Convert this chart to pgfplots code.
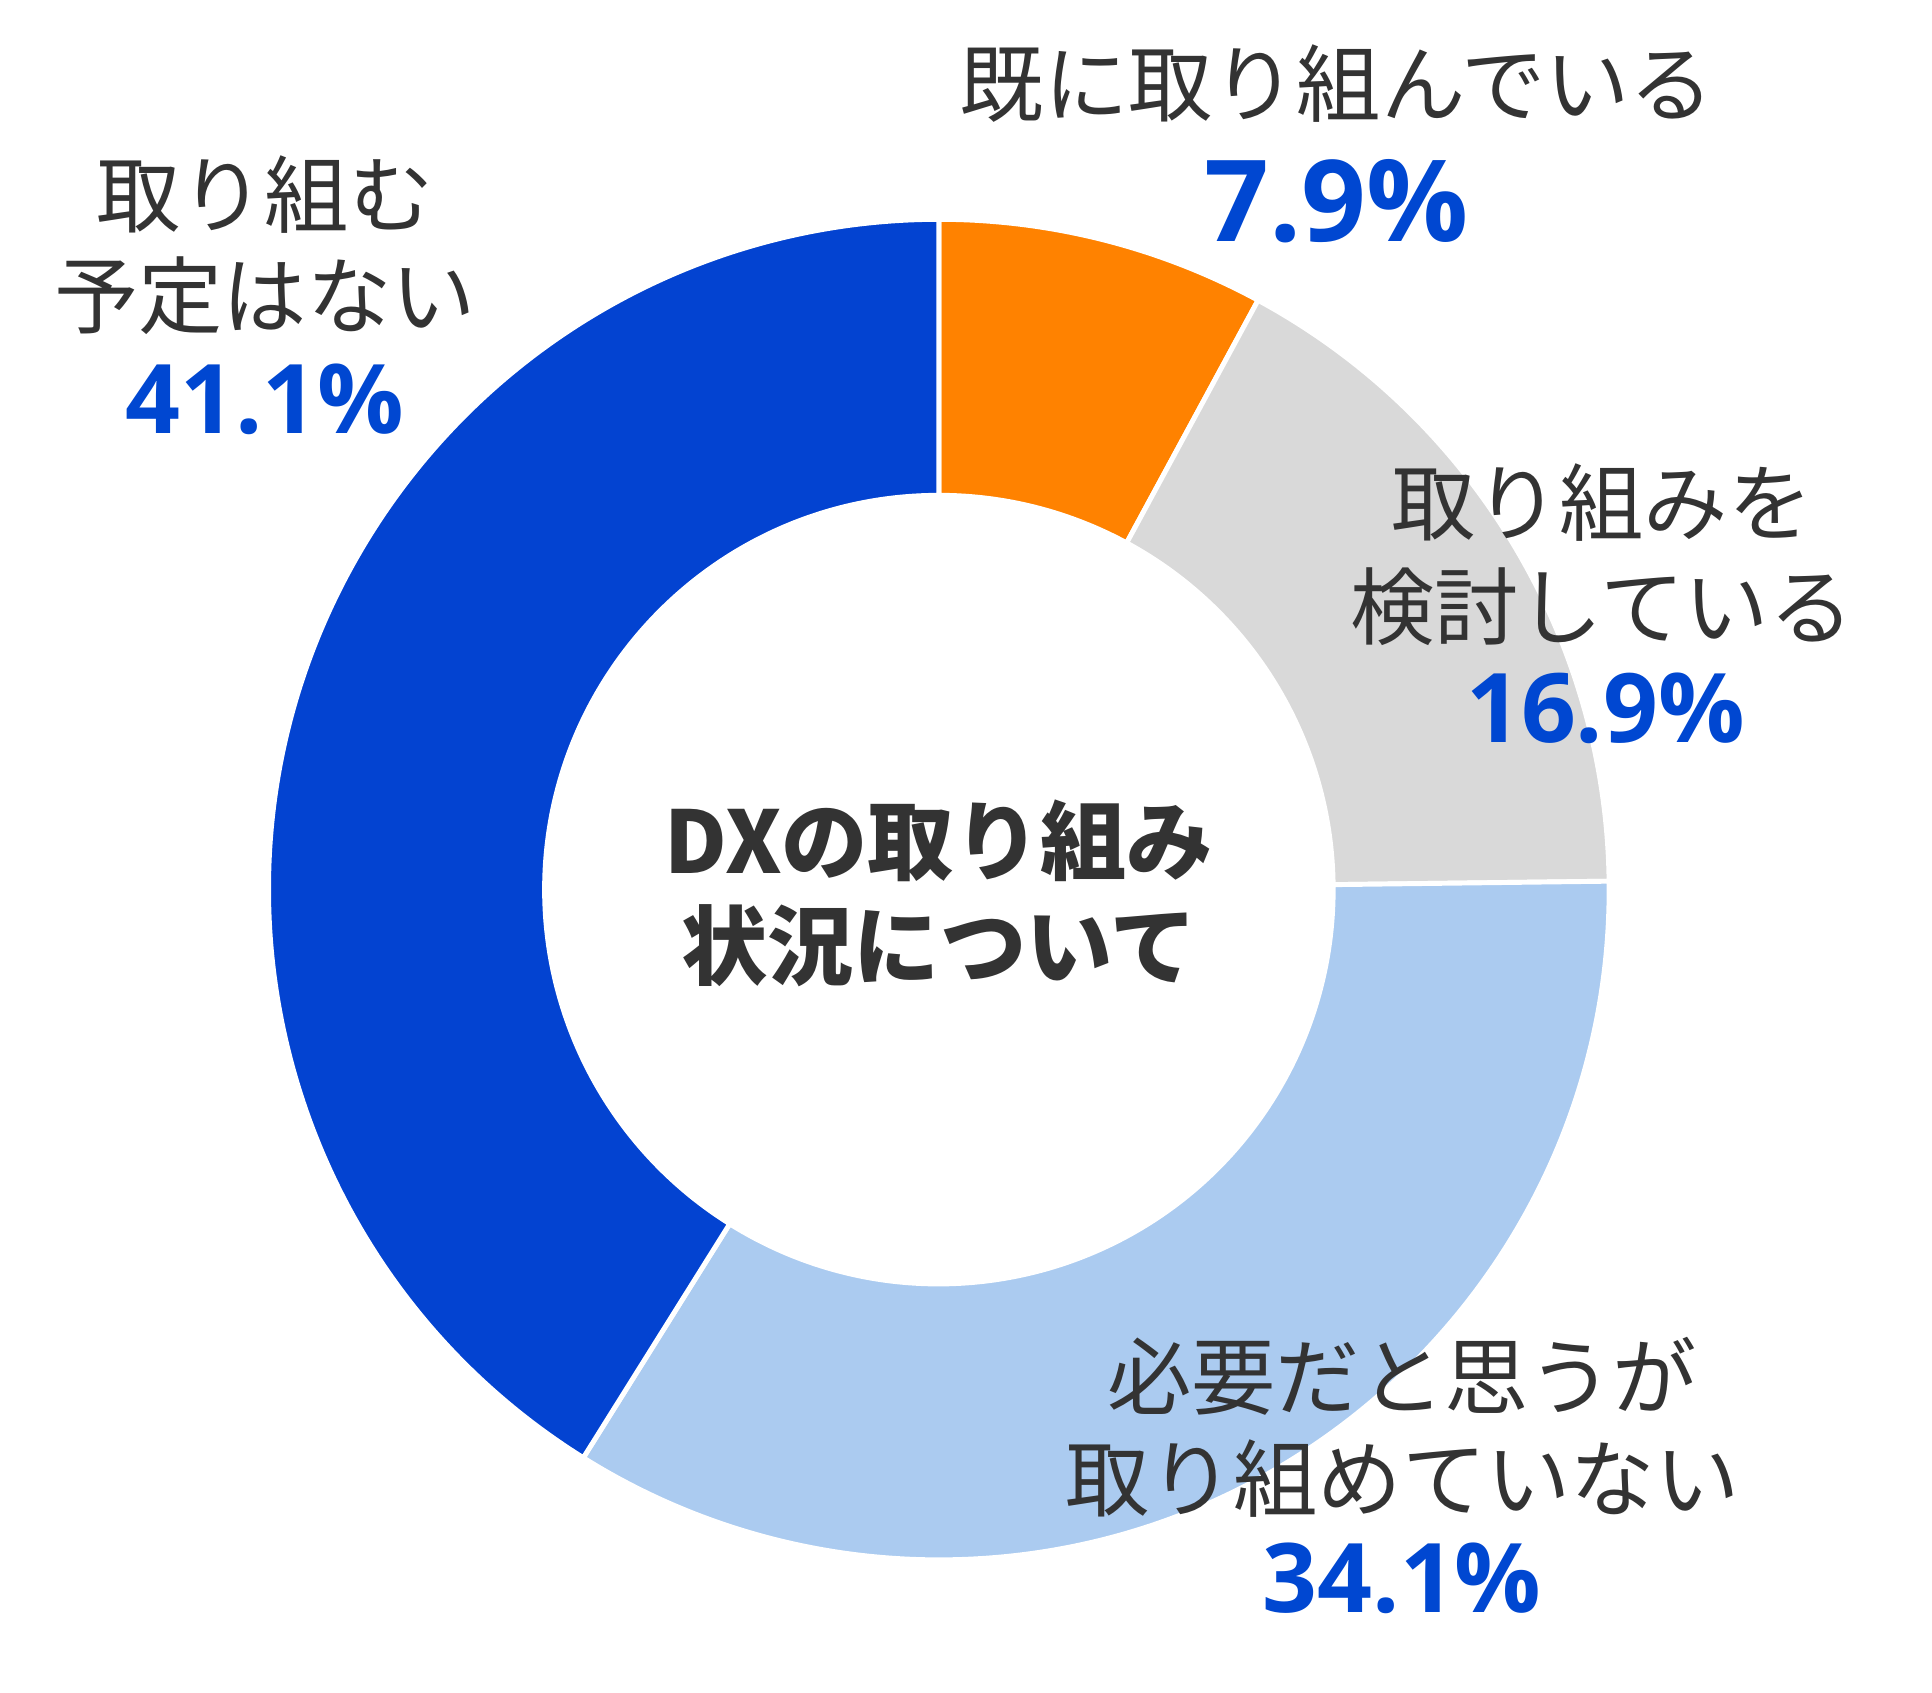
\documentclass[border=0pt]{standalone}
\usepackage{pgfplots}
\pgfplotsset{compat=1.18}
\usepackage{fontspec}
\setmainfont{Noto Sans CJK JP}
\newfontfamily\pctfont{Open Sans}
\definecolor{cOrange}{HTML}{FF8200}
\definecolor{cGray}{HTML}{D9D9D9}
\definecolor{cLight}{HTML}{ABCBF0}
\definecolor{cBlue}{HTML}{0343D1}
\definecolor{cText}{HTML}{333333}
\definecolor{cPct}{HTML}{0047D1}
% data (percent)
\def\vA{7.9}  % 既に取り組んでいる
\def\vB{16.9} % 取り組みを検討している
\def\vC{34.1} % 必要だと思うが取り組めていない
\def\vD{41.1} % 取り組む予定はない
\pgfmathsetmacro{\aO}{90}
\pgfmathsetmacro{\aA}{90-3.6*\vA}
\pgfmathsetmacro{\aB}{\aA-3.6*\vB}
\pgfmathsetmacro{\aC}{\aB-3.6*\vC}
\pgfmathsetmacro{\aD}{\aC-3.6*\vD}
\def\Ro{136pt}
\def\Ri{80pt}
\newcommand{\seg}[3]{%
  \filldraw[fill=#3, draw=white, line width=1pt]
    ([shift={({#1}:\Ro)}]axis cs:762,652) arc[start angle={#1}, end angle={#2}, radius=\Ro]
    -- ([shift={({#2}:\Ri)}]axis cs:762,652) arc[start angle={#2}, end angle={#1}, radius=\Ri] -- cycle;}
\begin{document}
\begin{tikzpicture}
\begin{axis}[
  width=392pt, height=343.5pt, scale only axis,
  xmin=0, xmax=1568, ymin=0, ymax=1374,
  hide axis, clip=false,
]
\path (axis cs:0,0) rectangle (axis cs:1568,1374);
\seg{\aO}{\aA}{cOrange}
\seg{\aA}{\aB}{cGray}
\seg{\aB}{\aC}{cLight}
\seg{\aC}{\aD}{cBlue}

\tikzset{lab/.style={anchor=base, text=cText, font=\fontsize{17.1}{20.5}\selectfont},
         pct/.style={anchor=base, text=cPct, font=\pctfont\bfseries\fontsize{19.5}{23}\selectfont}}
% top right
\node[lab] at (axis cs:1085,{1374-94}) {既に取り組んでいる};
\node[pct, font=\pctfont\bfseries\fontsize{23}{27}\selectfont] at (axis cs:1085,{1374-196}) {7.9\%};
% left
\node[lab] at (axis cs:215,{1374-184}) {取り組む};
\node[lab] at (axis cs:215,{1374-266}) {予定はない};
\node[pct] at (axis cs:215,{1374-352}) {41.1\%};
% right
\node[lab] at (axis cs:1300,{1374-434}) {取り組みを};
\node[lab] at (axis cs:1300,{1374-518}) {検討している};
\node[pct] at (axis cs:1303,{1374-603}) {16.9\%};
% bottom right
\node[lab] at (axis cs:1138,{1374-1143}) {必要だと思うが};
\node[lab] at (axis cs:1138,{1374-1226}) {取り組めていない};
\node[pct] at (axis cs:1138,{1374-1309}) {34.1\%};
% center
\node[lab, font=\bfseries\fontsize{17.5}{21}\selectfont] at (axis cs:762,{1374-709}) {DXの取り組み};
\node[lab, font=\bfseries\fontsize{17.5}{21}\selectfont] at (axis cs:762,{1374-794}) {状況について};
\end{axis}
\end{tikzpicture}
\end{document}
